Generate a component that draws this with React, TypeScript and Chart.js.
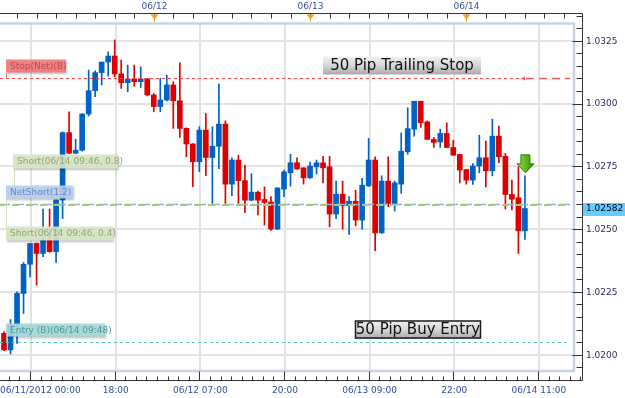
import React, { useEffect, useRef } from "react";
import { Chart, registerables } from "chart.js";

Chart.register(...registerables);

// Hourly EUR/CHF-like candles, index 0 = 06/11 01:00 ... index 80 = 06/14 09:00
const opens = [
  1.02085, 1.02019, 1.0212, 1.02244, 1.0236, 1.02443, 1.02403, 1.02456, 1.0241, 1.02616,
  1.02884, 1.02802, 1.02814, 1.02958, 1.03051, 1.03123, 1.03165, 1.03189, 1.03118, 1.03083,
  1.03098, 1.03087, 1.03098, 1.03034, 1.02988, 1.03014, 1.03074, 1.03011, 1.02901, 1.02839,
  1.02768, 1.02894, 1.02785, 1.0283, 1.02918, 1.02679, 1.02775, 1.02693, 1.02615, 1.02647,
  1.02618, 1.02608, 1.025, 1.02659, 1.02724, 1.02764, 1.02744, 1.02704, 1.02748, 1.02764,
  1.02748, 1.0256, 1.02639, 1.02593, 1.02611, 1.02536, 1.02672, 1.02775, 1.02485, 1.02691,
  1.02602, 1.02679, 1.02808, 1.02898, 1.03009, 1.02927, 1.02857, 1.02847, 1.02881, 1.02825,
  1.02797, 1.02737, 1.02695, 1.02751, 1.02784, 1.02732, 1.0287, 1.0279, 1.02638, 1.02625,
  1.02493,
];
const highs = [
  1.02092, 1.0214, 1.0225, 1.02367, 1.02443, 1.02445, 1.0258, 1.0258, 1.02616, 1.02887,
  1.02967, 1.02858, 1.0296, 1.03133, 1.0313, 1.03165, 1.03206, 1.03253, 1.03173, 1.03153,
  1.03153, 1.03146, 1.031, 1.0304, 1.031, 1.03113, 1.03087, 1.03162, 1.02903, 1.0284,
  1.02908, 1.0296, 1.02907, 1.03077, 1.02931, 1.02784, 1.02794, 1.02755, 1.02721, 1.02651,
  1.02668, 1.02629, 1.02664, 1.02735, 1.02798, 1.02784, 1.02744, 1.02767, 1.02775, 1.0279,
  1.0279, 1.02691, 1.02691, 1.02629, 1.02655, 1.02702, 1.02861, 1.02788, 1.02712, 1.02788,
  1.02691, 1.02883, 1.02983, 1.03009, 1.03009, 1.02931, 1.02865, 1.02898, 1.02923, 1.02854,
  1.02797, 1.02737, 1.02761, 1.02874, 1.0285, 1.02938, 1.0291, 1.02801, 1.02695, 1.02748,
  1.02712,
];
const lows = [
  1.02016, 1.02003, 1.02045, 1.02164, 1.0231, 1.02277, 1.0239, 1.02408, 1.02367, 1.02542,
  1.028, 1.028, 1.0281, 1.0295, 1.03027, 1.03074, 1.03109, 1.03107, 1.0306, 1.03047,
  1.03069, 1.03064, 1.0303, 1.02967, 1.02967, 1.0301, 1.02901, 1.02865, 1.02788, 1.02669,
  1.02729, 1.02713, 1.02602, 1.02741, 1.02602, 1.02633, 1.02602, 1.02565, 1.02613, 1.02556,
  1.02516, 1.02495, 1.02498, 1.02629, 1.02671, 1.02739, 1.02679, 1.02702, 1.02719, 1.02684,
  1.02509, 1.02542, 1.025, 1.02479, 1.02513, 1.025, 1.0267, 1.02414, 1.02483, 1.02589,
  1.02572, 1.02642, 1.02798, 1.0287, 1.02905, 1.02857, 1.02825, 1.02825, 1.02825, 1.02794,
  1.02684, 1.02679, 1.02678, 1.02724, 1.02668, 1.02712, 1.02764, 1.0258, 1.02576, 1.02403,
  1.02459,
];
const closes = [
  1.02019, 1.0212, 1.02244, 1.0236, 1.02443, 1.02403, 1.02456, 1.0241, 1.02616, 1.02884,
  1.02802, 1.02814, 1.02958, 1.03051, 1.03123, 1.03165, 1.03189, 1.03118, 1.03083, 1.03098,
  1.03087, 1.03098, 1.03034, 1.02988, 1.03014, 1.03074, 1.03011, 1.02901, 1.02839, 1.02768,
  1.02894, 1.02785, 1.0283, 1.02918, 1.02679, 1.02775, 1.02693, 1.02615, 1.02647, 1.02615,
  1.02606, 1.025, 1.02664, 1.02728, 1.02764, 1.02739, 1.02704, 1.02751, 1.02764, 1.02744,
  1.0256, 1.02639, 1.02593, 1.02611, 1.02536, 1.02675, 1.02775, 1.02485, 1.02691, 1.02602,
  1.02684, 1.0281, 1.029, 1.03009, 1.02923, 1.02857, 1.02845, 1.02881, 1.02825, 1.02794,
  1.02735, 1.02695, 1.02751, 1.02784, 1.02732, 1.0287, 1.02788, 1.02638, 1.02619, 1.02493,
  1.02582,
];

const priceTicks = [1.02, 1.0225, 1.025, 1.0275, 1.03, 1.0325];
const priceTickLabels = ["1.0200", "1.0225", "1.0250", "1.0275", "1.0300", "1.0325"];
const timeTickIndex = [4, 17, 30, 43, 56, 69, 82];
const timeTickLabels = ["06/11/2012 00:00", "18:00", "06/12 07:00", "20:00", "06/13 09:00", "22:00", "06/14 11:00"];
const dateTickIndex = [23, 47, 71];
const dateTickLabels = ["06/12", "06/13", "06/14"];

const stopPrice = 1.031;
const netPrice = 1.026;
const entryPrice = 1.0205;
const lastPrice = 1.02582;
const lastPriceLabel = "1.02582";

const UP = "#0062c4";
const DOWN = "#dd0000";
const FONT = "9px 'DejaVu Sans'";

function hline(ctx: CanvasRenderingContext2D, x1: number, x2: number, y: number, color: string, dash: number[], w: number, offset = 0) {
  ctx.save();
  ctx.strokeStyle = color;
  ctx.lineWidth = w;
  ctx.setLineDash(dash);
  ctx.lineDashOffset = offset;
  ctx.beginPath();
  ctx.moveTo(x1, y);
  ctx.lineTo(x2, y);
  ctx.stroke();
  ctx.restore();
}

function vline(ctx: CanvasRenderingContext2D, x: number, y1: number, y2: number, color: string, w = 1) {
  ctx.save();
  ctx.strokeStyle = color;
  ctx.lineWidth = w;
  ctx.beginPath();
  ctx.moveTo(x, y1);
  ctx.lineTo(x, y2);
  ctx.stroke();
  ctx.restore();
}

function tag(ctx: CanvasRenderingContext2D, x: number, y: number, w: number, h: number, fill: string, color: string, text: string) {
  ctx.save();
  ctx.shadowColor = "rgba(0,0,0,0.28)";
  ctx.shadowOffsetX = 1;
  ctx.shadowOffsetY = 1;
  ctx.shadowBlur = 2;
  ctx.fillStyle = fill;
  ctx.fillRect(x, y, w, h);
  ctx.restore();
  ctx.save();
  ctx.fillStyle = color;
  ctx.font = FONT;
  ctx.textBaseline = "middle";
  ctx.textAlign = "left";
  ctx.fillText(text, x + 4, y + h / 2 + 0.5);
  ctx.restore();
}

function bigBox(ctx: CanvasRenderingContext2D, x: number, y: number, w: number, h: number, text: string, border: boolean) {
  ctx.save();
  const g = ctx.createLinearGradient(0, y, 0, y + h);
  g.addColorStop(0, "#f2f2f2");
  g.addColorStop(0.5, "#d6d6d6");
  g.addColorStop(1, "#a9a9a9");
  ctx.fillStyle = g;
  ctx.fillRect(x, y, w, h);
  if (border) {
    ctx.strokeStyle = "#1a1a1a";
    ctx.lineWidth = 1.5;
    ctx.strokeRect(x + 0.5, y + 0.5, w - 1, h - 1);
  }
  ctx.fillStyle = "#111111";
  ctx.font = "15px 'DejaVu Sans'";
  ctx.textBaseline = "middle";
  ctx.textAlign = "center";
  ctx.fillText(text, x + w / 2, y + h / 2 + 1);
  ctx.restore();
}

const decor = {
  id: "decor",
  beforeDraw(chart: any) {
    const { ctx, chartArea: a, scales } = chart;
    const xs = scales.x;
    const ys = scales.y;
    ctx.save();
    ctx.fillStyle = "#ffffff";
    ctx.fillRect(0, 0, chart.width, chart.height);
    ctx.strokeStyle = "#e3e3e3";
    ctx.lineWidth = 2;
    for (const v of priceTicks) {
      const y = Math.round(ys.getPixelForValue(v));
      ctx.beginPath();
      ctx.moveTo(a.left, y);
      ctx.lineTo(a.right, y);
      ctx.stroke();
    }
    for (const i of timeTickIndex) {
      const x = Math.round(xs.getPixelForValue(i)) + 1;
      ctx.beginPath();
      ctx.moveTo(x, a.top);
      ctx.lineTo(x, a.bottom);
      ctx.stroke();
    }
    ctx.restore();
  },
  afterDatasetsDraw(chart: any) {
    const { ctx, chartArea: a, scales } = chart;
    const xs = scales.x;
    const ys = scales.y;
    const R = a.right;

    // inner frame
    ctx.save();
    ctx.strokeStyle = "#c9d3de";
    ctx.lineWidth = 2.5;
    ctx.beginPath();
    ctx.moveTo(a.left, a.top + 0.5);
    ctx.lineTo(R + 1, a.top + 0.5);
    ctx.lineTo(R + 1, a.bottom + 1);
    ctx.lineTo(a.left, a.bottom + 1);
    ctx.stroke();
    ctx.restore();

    // stop line
    const sy = Math.round(ys.getPixelForValue(stopPrice)) + 0.5;
    hline(ctx, 0, 522, sy, "#ff4a4a", [3, 3], 1);
    hline(ctx, 526, R - 3, sy, "#ff5a5a", [8, 5], 1.5);
    ctx.save();
    ctx.fillStyle = "#ff4a4a";
    ctx.beginPath();
    ctx.moveTo(521, sy);
    ctx.lineTo(525, sy - 2);
    ctx.lineTo(525, sy + 2);
    ctx.closePath();
    ctx.fill();
    ctx.restore();

    // net line
    const ny = Math.round(ys.getPixelForValue(netPrice)) + 0.5;
    hline(ctx, 0, R - 3, ny, "#8fb0e6", [10, 4], 1.5);
    hline(ctx, 0, R - 3, ny + 0.5, "#a4cc78", [7, 7], 2, 2);

    // entry line
    const ey = Math.round(ys.getPixelForValue(entryPrice)) + 0.5;
    hline(ctx, 0, R - 3, ey, "#5cc6bd", [3, 3], 1);

    // connectors
    vline(ctx, 6.5, sy - 6, sy, "#ff7070");
    vline(ctx, 6.5, ey - 6, ey, "#6ccac2");
    vline(ctx, 14.5, ny - 36, ny - 18, "#cfe0b8");
    vline(ctx, 6.5, ny - 6, ny + 22, "#cfe0b8");

    // tags
    tag(ctx, 6, sy - 19, 60, 13, "rgba(240,120,120,0.88)", "#c24a4a", "Stop(Net)(B)");
    tag(ctx, 13, ny - 50, 105, 14, "rgba(218,232,198,0.9)", "#8ea874", "Short(06/14 09:46, 0.8)");
    tag(ctx, 6, ny - 19, 67, 13, "rgba(184,208,244,0.92)", "#6a88bc", "NetShort(1.2)");
    tag(ctx, 6, ny + 22, 107, 14, "rgba(218,232,198,0.9)", "#8ea874", "Short(06/14 09:46, 0.4)");
    tag(ctx, 6, ey - 19, 99, 13, "rgba(166,218,218,0.92)", "#4f9797", "Entry (B)(06/14 09:48)");

    bigBox(ctx, 323, sy - 22, 158, 18, "50 Pip Trailing Stop", false);
    bigBox(ctx, 355, ey - 22, 126, 18, "50 Pip Buy Entry", true);

    // green arrow above last candle
    const li = closes.length - 1;
    const ax = xs.getPixelForValue(li) + 0.5;
    const at = ys.getPixelForValue(highs[li]) - 21;
    ctx.save();
    const g = ctx.createLinearGradient(ax - 8, 0, ax + 8, 0);
    g.addColorStop(0, "#8fe04a");
    g.addColorStop(1, "#2f9400");
    ctx.fillStyle = g;
    ctx.strokeStyle = "#2a7d00";
    ctx.lineWidth = 1;
    ctx.beginPath();
    ctx.moveTo(ax - 4.5, at);
    ctx.lineTo(ax + 4.5, at);
    ctx.lineTo(ax + 4.5, at + 9);
    ctx.lineTo(ax + 8.5, at + 9);
    ctx.lineTo(ax, at + 18);
    ctx.lineTo(ax - 8.5, at + 9);
    ctx.lineTo(ax - 4.5, at + 9);
    ctx.closePath();
    ctx.fill();
    ctx.stroke();
    ctx.restore();

    // axes
    const axisX = 582.5;
    const topY = 13.5;
    const botY = 380.5;
    ctx.save();
    ctx.strokeStyle = "#333333";
    ctx.lineWidth = 1;
    ctx.beginPath();
    ctx.moveTo(0, topY);
    ctx.lineTo(axisX, topY);
    ctx.lineTo(axisX, botY);
    ctx.lineTo(0, botY);
    ctx.stroke();

    // top ticks every 3 hours
    ctx.beginPath();
    for (let k = -7; k <= 21; k++) {
      const x = Math.round(xs.getPixelForValue(dateTickIndex[0] + 3 * k)) + 0.5;
      if (x < 0 || x > axisX) continue;
      ctx.moveTo(x, topY);
      ctx.lineTo(x, topY + 5);
    }
    // right ticks
    for (let m = 0; m <= 30; m++) {
      const v = 1.0195 + m * 0.0005;
      const y = Math.round(ys.getPixelForValue(v)) + 0.5;
      if (y < topY || y > botY) continue;
      const major = m % 5 === 1;
      ctx.moveTo(axisX - (major ? 10 : 6), y);
      ctx.lineTo(axisX, y);
    }
    // bottom ticks
    for (let k = -2; k <= 52; k++) {
      const x = Math.round(xs.getPixelForValue(timeTickIndex[0] + (13 / 8) * k)) + 0.5;
      if (x < 0 || x > axisX) continue;
      const major = k % 8 === 0;
      ctx.moveTo(x, botY);
      ctx.lineTo(x, botY - (major ? 9 : 4));
    }
    ctx.stroke();
    ctx.restore();

    // date markers + labels
    ctx.save();
    ctx.font = FONT;
    ctx.textBaseline = "middle";
    ctx.textAlign = "center";
    dateTickIndex.forEach((idx, n) => {
      const x = Math.round(xs.getPixelForValue(idx)) + 0.5;
      ctx.fillStyle = "#f0a030";
      ctx.beginPath();
      ctx.moveTo(x - 4, topY + 1);
      ctx.lineTo(x + 4, topY + 1);
      ctx.lineTo(x, topY + 6);
      ctx.closePath();
      ctx.fill();
      ctx.fillRect(x - 0.5, topY + 5, 1, 3);
      ctx.fillStyle = "#34509a";
      ctx.fillText(dateTickLabels[n], x, 6.5);
    });

    // bottom labels
    ctx.fillStyle = "#34509a";
    timeTickIndex.forEach((idx, n) => {
      const x = xs.getPixelForValue(idx) + 1;
      const w = ctx.measureText(timeTickLabels[n]).width;
      let cx = x;
      if (cx - w / 2 < 0) cx = w / 2;
      ctx.fillText(timeTickLabels[n], cx, 390.5);
    });

    // right labels
    ctx.textAlign = "left";
    ctx.fillStyle = "#2c2c64";
    priceTicks.forEach((v, n) => {
      const y = ys.getPixelForValue(v);
      ctx.fillText(priceTickLabels[n], 586, y + 0.5);
    });

    // last price box
    const ly = ys.getPixelForValue(lastPrice);
    ctx.fillStyle = "#66ccff";
    ctx.fillRect(583, Math.round(ly) - 6, 42, 13);
    ctx.fillStyle = "#000000";
    ctx.fillText(lastPriceLabel, 586, ly + 0.5);
    ctx.restore();
  },
};

export default function App() {
  const ref = useRef<HTMLCanvasElement>(null);
  useEffect(() => {
    document.body.style.margin = "0";
    const canvas = ref.current as HTMLCanvasElement;
    const idx = closes.map((_, i) => i);
    const colors = idx.map((i) => (closes[i] >= opens[i] ? UP : DOWN));
    const chart = new Chart(canvas, {
      type: "bar",
      data: {
        datasets: [
          {
            label: "wick",
            data: idx.map((i) => ({ x: i, y: [lows[i], highs[i]] })) as any,
            backgroundColor: colors,
            borderWidth: 0,
            barThickness: 1,
            grouped: false,
            minBarLength: 1,
            order: 2,
          } as any,
          {
            label: "body",
            data: idx.map((i) => ({ x: i, y: [opens[i], closes[i]] })) as any,
            backgroundColor: colors,
            borderWidth: 0,
            barThickness: 5,
            grouped: false,
            minBarLength: 1,
            order: 1,
          } as any,
        ],
      },
      options: {
        responsive: false,
        animation: false,
        devicePixelRatio: 1,
        layout: { padding: { left: 0, top: 23, right: 52, bottom: 28 } },
        scales: {
          x: { type: "linear", min: -0.615, max: 87.385, display: false, offset: false },
          y: { type: "linear", min: 1.019391, max: 1.033205, display: false },
        },
        plugins: { legend: { display: false }, tooltip: { enabled: false } },
      } as any,
      plugins: [decor],
    });
    return () => chart.destroy();
  }, []);
  return (
    <div style={{ width: 625, height: 398 }}>
      <canvas ref={ref} width={625} height={398} style={{ display: "block", width: 625, height: 398 }} />
    </div>
  );
}
